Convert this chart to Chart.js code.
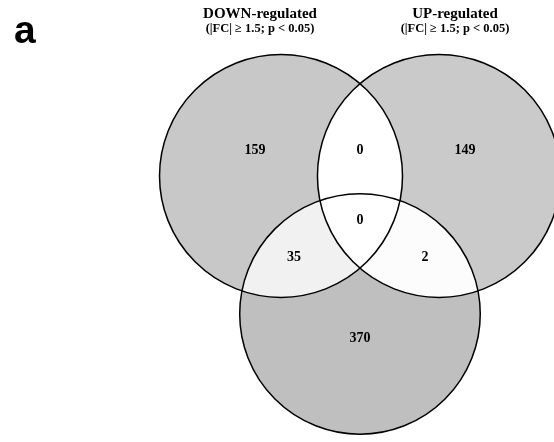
<!DOCTYPE html>
<html>
<head>
<meta charset="utf-8">
<script src="https://cdn.jsdelivr.net/npm/chart.js@4.4.1/dist/chart.umd.min.js"></script>
<style>
  html, body { margin: 0; padding: 0; background: #fff; }
  #wrap { position: relative; width: 554px; height: 442px; }
</style>
</head>
<body>
<div id="wrap"><canvas id="venn"></canvas></div>
<script>
// sets (unit circles, centred on the triangle's centroid)
const setNames = ['DOWN', 'UP', 'THIRD'];
const setCenterX = [-0.65, 0.65, 0];
const setCenterY = [0.379, 0.379, -0.757];
const setRadius = [1, 1, 0.99];

// headings over the two top circles
const headTitles = ['DOWN-regulated', 'UP-regulated'];
const headSubtitles = ['(|FC| \u2265 1.5; p < 0.05)', '(|FC| \u2265 1.5; p < 0.05)'];
const headX = [-0.823, 0.782];
const headY = [1.679, 1.564];

// region counts and where they sit
const regionNames = ['DOWN only', 'DOWN & UP', 'UP only', 'all', 'DOWN & THIRD', 'UP & THIRD', 'THIRD only'];
const regionCounts = [159, 0, 149, 0, 35, 2, 370];
const regionX = [-0.864, 0, 0.864, 0, -0.543, 0.535, 0];
const regionY = [0.593, 0.593, 0.593, 0.016, -0.288, -0.288, -0.955];

// fills: single sets, then pairs, then the middle
const setFill = ['#c8c8c8', '#cacaca', '#bfbfbf'];
const pairFill = { '0-1': '#ffffff', '0-2': '#f1f1f1', '1-2': '#fcfcfc' };
const tripleFill = '#ffffff';

function unitPx(chart) {
    const x = chart.scales.x;
    return x.getPixelForValue(1) - x.getPixelForValue(0);
}

function circlePath(chart, i) {
    const ctx = chart.ctx;
    const cx = chart.scales.x.getPixelForValue(setCenterX[i]);
    const cy = chart.scales.y.getPixelForValue(setCenterY[i]);
    ctx.beginPath();
    ctx.arc(cx, cy, setRadius[i] * unitPx(chart), 0, Math.PI * 2);
}

const regionFills = {
    id: 'regionFills',
    beforeDatasetsDraw(chart) {
        const ctx = chart.ctx;
        ctx.save();
        setNames.forEach((n, i) => {
            circlePath(chart, i);
            ctx.fillStyle = setFill[i];
            ctx.fill();
        });
        Object.keys(pairFill).forEach(k => {
            const [a, b] = k.split('-').map(Number);
            ctx.save();
            circlePath(chart, a);
            ctx.clip();
            circlePath(chart, b);
            ctx.fillStyle = pairFill[k];
            ctx.fill();
            ctx.restore();
        });
        ctx.save();
        circlePath(chart, 0);
        ctx.clip();
        circlePath(chart, 1);
        ctx.clip();
        circlePath(chart, 2);
        ctx.fillStyle = tripleFill;
        ctx.fill();
        ctx.restore();
        ctx.restore();
    }
};

const vennText = {
    id: 'vennText',
    afterDatasetsDraw(chart) {
        const ctx = chart.ctx;
        const sx = chart.scales.x, sy = chart.scales.y;
        ctx.save();
        ctx.fillStyle = '#000';
        ctx.textAlign = 'center';
        ctx.textBaseline = 'middle';
        ctx.font = 'bold 14px "Liberation Serif", "DejaVu Serif", serif';
        regionCounts.forEach((v, i) => {
            ctx.fillText(String(v), sx.getPixelForValue(regionX[i]), sy.getPixelForValue(regionY[i]));
        });

        ctx.textBaseline = 'alphabetic';
        headTitles.forEach((t, i) => {
            const x = sx.getPixelForValue(headX[i]);
            ctx.font = 'bold 15px "Liberation Serif", serif';
            ctx.fillText(t, x, sy.getPixelForValue(headY[0]));
            ctx.font = 'bold 12.5px "Liberation Serif", serif';
            ctx.fillText(headSubtitles[i], x, sy.getPixelForValue(headY[1]));
        });

        // panel letter
        ctx.textAlign = 'left';
        ctx.font = 'bold 39px "Liberation Sans", Arial, sans-serif';
        ctx.fillText('a', 14, 43);
        ctx.restore();
    }
};

new Chart(document.getElementById('venn'), {
    type: 'scatter',
    data: {
        datasets: [{
            label: 'sets',
            data: setNames.map((n, i) => ({ x: setCenterX[i], y: setCenterY[i] })),
            showLine: false,
            pointRadius: ctx => setRadius[ctx.dataIndex] * unitPx(ctx.chart),
            pointBackgroundColor: 'rgba(0,0,0,0)',
            pointBorderColor: '#000',
            pointBorderWidth: 1.5,
            clip: false
        }]
    },
    options: {
        responsive: true,
        maintainAspectRatio: false,
        animation: false,
        events: [],
        layout: { padding: 0 },
        plugins: { legend: { display: false }, tooltip: { enabled: false } },
        scales: {
            x: { display: false, min: -2.963, max: 1.597 },
            y: { display: false, min: -1.811, max: 1.827 }
        }
    },
    plugins: [regionFills, vennText]
});
</script>
</body>
</html>
